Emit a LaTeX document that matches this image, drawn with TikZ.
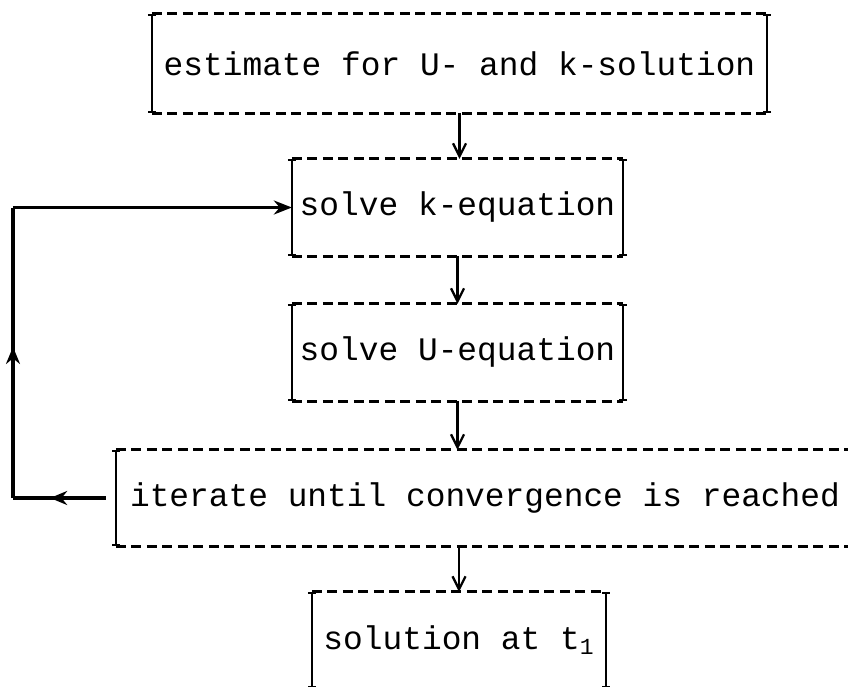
\documentclass[tikz,border=0pt]{standalone}
\usepackage{fontspec}
\setmonofont{Liberation Mono}
\usetikzlibrary{arrows.meta}
\usetikzlibrary{positioning}
\usetikzlibrary{decorations.markings}

\begin{document}
\begin{tikzpicture}[>={Straight Barb[length=2.6mm,width=2.6mm]},
	line width=1.3pt,
	main box/.style={inner sep=0pt,font=\ttfamily\fontsize{18.7}{22}\selectfont},
	box dash/.style={dash pattern=on 2mm off 1.1mm,line width=1.7pt},
	box side/.style={{Bar[width=1.6mm]}-{Bar[width=1.6mm]},line width=1.4pt},
	loop line/.style={line width=2pt},
	mid arrow/.style={postaction={decorate},decoration={markings,
		mark=at position #1 with {\arrow{Stealth[length=3.4mm,width=2.8mm]}}}}]
	
	\useasboundingbox (0,0) rectangle (16.96,-13.74);
	
	\node[main box,minimum width=12.26cm,minimum height=1.94cm] (est) at (9.19,-1.27) {estimate for U- and k-solution};
	\node[main box,minimum width=6.58cm,minimum height=1.9cm] (keq) at (9.15,-4.15) {solve k-equation};
	\node[main box,minimum width=6.58cm,minimum height=1.9cm] (ueq) at (9.15,-7.05) {solve U-equation};
	\node[main box,minimum width=14.72cm,minimum height=1.88cm] (iter) at (9.70,-9.96) {iterate until convergence is reached};
	\node[main box,minimum width=5.84cm,minimum height=1.88cm] (sol) at (9.18,-12.80) {solution at t\textsubscript{1}};
	
	% box borders: dashed top and bottom, solid sides
	\foreach \n in {est,keq,ueq,iter,sol} {
		\draw[box dash] (\n.north west) -- (\n.north east);
		\draw[box dash] (\n.south west) -- (\n.south east);
		\draw[box side] (\n.north west) -- (\n.south west);
		\draw[box side] (\n.north east) -- (\n.south east);
	}
	
	\draw[->] (est.south) -- (est.south |- keq.north);
	\draw[->] (keq.south) -- (ueq.north);
	\draw[->] (ueq.south) -- (ueq.south |- iter.north);
	\draw[->] (sol.north |- iter.south) -- (sol.north);
	
	% feedback loop
	\coordinate (lb) at (0.26,0 |- iter.west);
	\coordinate (lt) at (0.26,0 |- keq.west);
	\draw[loop line,mid arrow=0.6] ([xshift=-2mm]iter.west) -- (lb);
	\draw[loop line,mid arrow=0.52] (lb) -- (lt);
	\draw[loop line,-{Stealth[length=3.6mm,width=2.8mm]}] (lt) -- (keq.west);
\end{tikzpicture}
\end{document}
